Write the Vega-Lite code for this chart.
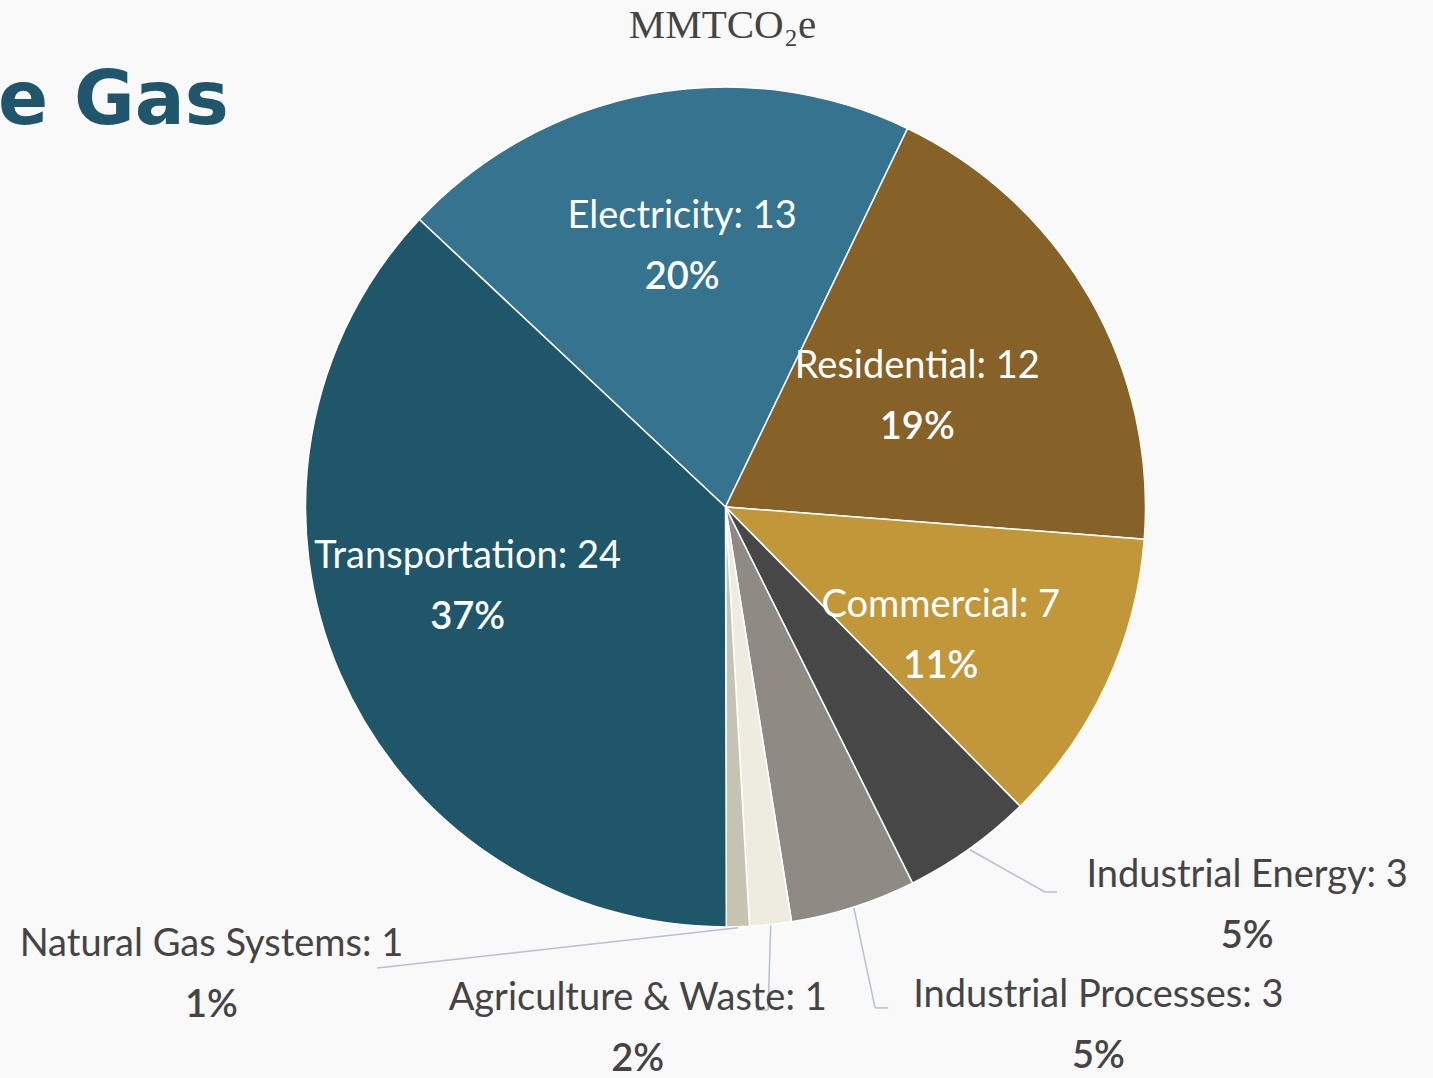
{
  "$schema": "https://vega.github.io/schema/vega-lite/v6.json",
  "background": "#f9f9f9",
  "autosize": {"type": "none"},
  "padding": {"left": 18, "top": 39, "right": 0, "bottom": 103},
  "width": 1415,
  "height": 936,
  "config": {"view": {"stroke": null}},
  "title": {"text": "MMTCO₂e", "anchor": "middle", "frame": "group", "font": "Liberation Serif", "fontSize": 41, "fontWeight": "normal", "color": "#444444", "baseline": "alphabetic", "offset": -40, "dx": -3},
  "data": {
    "values": [
      {"sector": "Electricity", "value": 13.05, "order": 1},
      {"sector": "Residential", "value": 12.37, "order": 2},
      {"sector": "Commercial", "value": 7.39, "order": 3},
      {"sector": "Industrial Energy", "value": 3.26, "order": 4},
      {"sector": "Industrial Processes", "value": 3.13, "order": 5},
      {"sector": "Agriculture & Waste", "value": 1.04, "order": 6},
      {"sector": "Natural Gas Systems", "value": 0.57, "order": 7},
      {"sector": "Transportation", "value": 24.0, "order": 8}
    ]
  },
  "transform": [
    {"joinaggregate": [{"op": "sum", "field": "value", "as": "total"}]},
    {"stack": "value", "groupby": [], "sort": [{"field": "order", "order": "ascending"}], "as": ["s0", "s1"]},
    {"calculate": "(datum.s0 + datum.s1) / 2", "as": "mid"},
    {"calculate": "-0.8168 + 2 * PI * datum.mid / datum.total", "as": "ang"},
    {"calculate": "datum.sector + ': ' + format(datum.value, '.0f')", "as": "label"},
    {"calculate": "format(datum.value / datum.total, '.0%')", "as": "pct"}
  ],
  "encoding": {
    "theta": {"field": "mid", "type": "quantitative", "stack": null, "scale": {"range": [-0.8168, 5.4664]}}
  },
  "layer": [
    {
      "mark": {"type": "arc", "outerRadius": 420, "stroke": "#ffffff", "strokeWidth": 1.5},
      "encoding": {
        "theta": {"field": "value", "type": "quantitative", "stack": true, "scale": {"range": [-0.8168, 5.4664]}},
        "order": {"field": "order", "type": "quantitative"},
        "color": {"field": "sector", "type": "nominal",
          "scale": {
            "domain": ["Electricity", "Residential", "Commercial", "Industrial Energy", "Industrial Processes", "Agriculture & Waste", "Natural Gas Systems", "Transportation"],
            "range": ["#36738f", "#866128", "#c1973a", "#474747", "#8f8b84", "#eeebe1", "#c6c3b3", "#1f566a"]
          },
          "legend": {"orient": "none", "legendX": -20, "legendY": 27, "title": "e Gas", "titleFont": "DejaVu Sans", "titleFontSize": 74, "titleFontWeight": "bold", "titleColor": "#1f566b", "titleLimit": 2000, "titleBaseline": "top", "titlePadding": 0, "padding": 0, "symbolOpacity": 0, "symbolSize": 0, "symbolStrokeWidth": 0, "labelOpacity": 0, "labelFontSize": 1}}
      }
    },
    {
      "transform": [
        {"filter": "datum.order >= 4 && datum.order <= 7"},
        {"calculate": "datum.sector === 'Industrial Energy' ? -0.0732 : datum.sector === 'Industrial Processes' ? 0.0196 : datum.sector === 'Agriculture & Waste' ? 0.0232 : 0.6768", "as": "eoff"},
        {"calculate": "datum.sector === 'Industrial Energy' ? 500.3 : datum.sector === 'Industrial Processes' ? 522.8 : datum.sector === 'Agriculture & Waste' ? 504.8 : 577.9", "as": "er"},
        {"calculate": "datum.sector === 'Industrial Energy' ? 12 : datum.sector === 'Industrial Processes' ? 13 : datum.sector === 'Agriculture & Waste' ? -12 : 0", "as": "tail"},
        {"calculate": "707.5 + 421 * sin(datum.ang)", "as": "xa"},
        {"calculate": "468 - 421 * cos(datum.ang)", "as": "ya"},
        {"calculate": "707.5 + datum.er * sin(datum.ang + datum.eoff)", "as": "xb"},
        {"calculate": "468 - datum.er * cos(datum.ang + datum.eoff)", "as": "yb"},
        {"calculate": "datum.xb + datum.tail", "as": "xc"}
      ],
      "layer": [
        {
          "mark": {"type": "rule", "color": "#b4c2d3", "strokeWidth": 1.5},
          "encoding": {
            "x": {"field": "xa", "type": "quantitative", "scale": null, "axis": null},
            "y": {"field": "ya", "type": "quantitative", "scale": null, "axis": null},
            "x2": {"field": "xb"},
            "y2": {"field": "yb"}
          }
        },
        {
          "mark": {"type": "rule", "color": "#b4c2d3", "strokeWidth": 1.5},
          "encoding": {
            "x": {"field": "xb", "type": "quantitative", "scale": null, "axis": null},
            "y": {"field": "yb", "type": "quantitative", "scale": null, "axis": null},
            "x2": {"field": "xc"},
            "y2": {"field": "yb"}
          }
        }
      ]
    },
    {"transform": [{"filter": "datum.sector === 'Electricity'"}],
     "layer": [
       {"mark": {"type": "text", "radius": 267, "thetaOffset": 0.0213, "dy": -27, "font": "Lato", "fontSize": 38, "fontWeight": 400, "color": "#ffffff"}, "encoding": {"text": {"field": "label", "type": "nominal"}}},
       {"mark": {"type": "text", "radius": 267, "thetaOffset": 0.0213, "dy": 34, "font": "Lato", "fontSize": 38, "fontWeight": 600, "color": "#ffffff"}, "encoding": {"text": {"field": "pct", "type": "nominal"}}}
     ]},
    {"transform": [{"filter": "datum.sector === 'Residential'"}],
     "layer": [
       {"mark": {"type": "text", "radius": 222.5, "thetaOffset": -0.0089, "dy": -27, "font": "Lato", "fontSize": 38, "fontWeight": 400, "color": "#ffffff"}, "encoding": {"text": {"field": "label", "type": "nominal"}}},
       {"mark": {"type": "text", "radius": 222.5, "thetaOffset": -0.0089, "dy": 34, "font": "Lato", "fontSize": 38, "fontWeight": 600, "color": "#ffffff"}, "encoding": {"text": {"field": "pct", "type": "nominal"}}}
     ]},
    {"transform": [{"filter": "datum.sector === 'Commercial'"}],
     "layer": [
       {"mark": {"type": "text", "radius": 249.5, "thetaOffset": 0.0946, "dy": -27, "font": "Lato", "fontSize": 38, "fontWeight": 400, "color": "#ffffff"}, "encoding": {"text": {"field": "label", "type": "nominal"}}},
       {"mark": {"type": "text", "radius": 249.5, "thetaOffset": 0.0946, "dy": 34, "font": "Lato", "fontSize": 38, "fontWeight": 600, "color": "#ffffff"}, "encoding": {"text": {"field": "pct", "type": "nominal"}}}
     ]},
    {"transform": [{"filter": "datum.sector === 'Transportation'"}],
     "layer": [
       {"mark": {"type": "text", "radius": 269, "thetaOffset": 0.1199, "dy": -27, "font": "Lato", "fontSize": 38, "fontWeight": 400, "color": "#ffffff"}, "encoding": {"text": {"field": "label", "type": "nominal"}}},
       {"mark": {"type": "text", "radius": 269, "thetaOffset": 0.1199, "dy": 34, "font": "Lato", "fontSize": 38, "fontWeight": 600, "color": "#ffffff"}, "encoding": {"text": {"field": "pct", "type": "nominal"}}}
     ]},
    {"transform": [{"filter": "datum.sector === 'Industrial Energy'"}],
     "layer": [
       {"mark": {"type": "text", "radius": 655, "thetaOffset": -0.3018, "dy": -27, "font": "Lato", "fontSize": 38, "fontWeight": 400, "color": "#444444"}, "encoding": {"text": {"field": "label", "type": "nominal"}}},
       {"mark": {"type": "text", "radius": 655, "thetaOffset": -0.3018, "dy": 34, "font": "Lato", "fontSize": 38, "fontWeight": 600, "color": "#444444"}, "encoding": {"text": {"field": "pct", "type": "nominal"}}}
     ]},
    {"transform": [{"filter": "datum.sector === 'Industrial Processes'"}],
     "layer": [
       {"mark": {"type": "text", "radius": 637, "thetaOffset": -0.3156, "dy": -27, "font": "Lato", "fontSize": 38, "fontWeight": 400, "color": "#444444"}, "encoding": {"text": {"field": "label", "type": "nominal"}}},
       {"mark": {"type": "text", "radius": 637, "thetaOffset": -0.3156, "dy": 34, "font": "Lato", "fontSize": 38, "fontWeight": 600, "color": "#444444"}, "encoding": {"text": {"field": "pct", "type": "nominal"}}}
     ]},
    {"transform": [{"filter": "datum.sector === 'Agriculture & Waste'"}],
     "layer": [
       {"mark": {"type": "text", "radius": 526, "thetaOffset": 0.2754, "dy": -27, "font": "Lato", "fontSize": 38, "fontWeight": 400, "color": "#444444"}, "encoding": {"text": {"field": "label", "type": "nominal"}}},
       {"mark": {"type": "text", "radius": 526, "thetaOffset": 0.2754, "dy": 34, "font": "Lato", "fontSize": 38, "fontWeight": 600, "color": "#444444"}, "encoding": {"text": {"field": "pct", "type": "nominal"}}}
     ]},
    {"transform": [{"filter": "datum.sector === 'Natural Gas Systems'"}],
     "layer": [
       {"mark": {"type": "text", "radius": 693, "thetaOffset": 0.8652, "dy": -27, "font": "Lato", "fontSize": 38, "fontWeight": 400, "color": "#444444"}, "encoding": {"text": {"field": "label", "type": "nominal"}}},
       {"mark": {"type": "text", "radius": 693, "thetaOffset": 0.8652, "dy": 34, "font": "Lato", "fontSize": 38, "fontWeight": 600, "color": "#444444"}, "encoding": {"text": {"field": "pct", "type": "nominal"}}}
     ]}
  ]
}
